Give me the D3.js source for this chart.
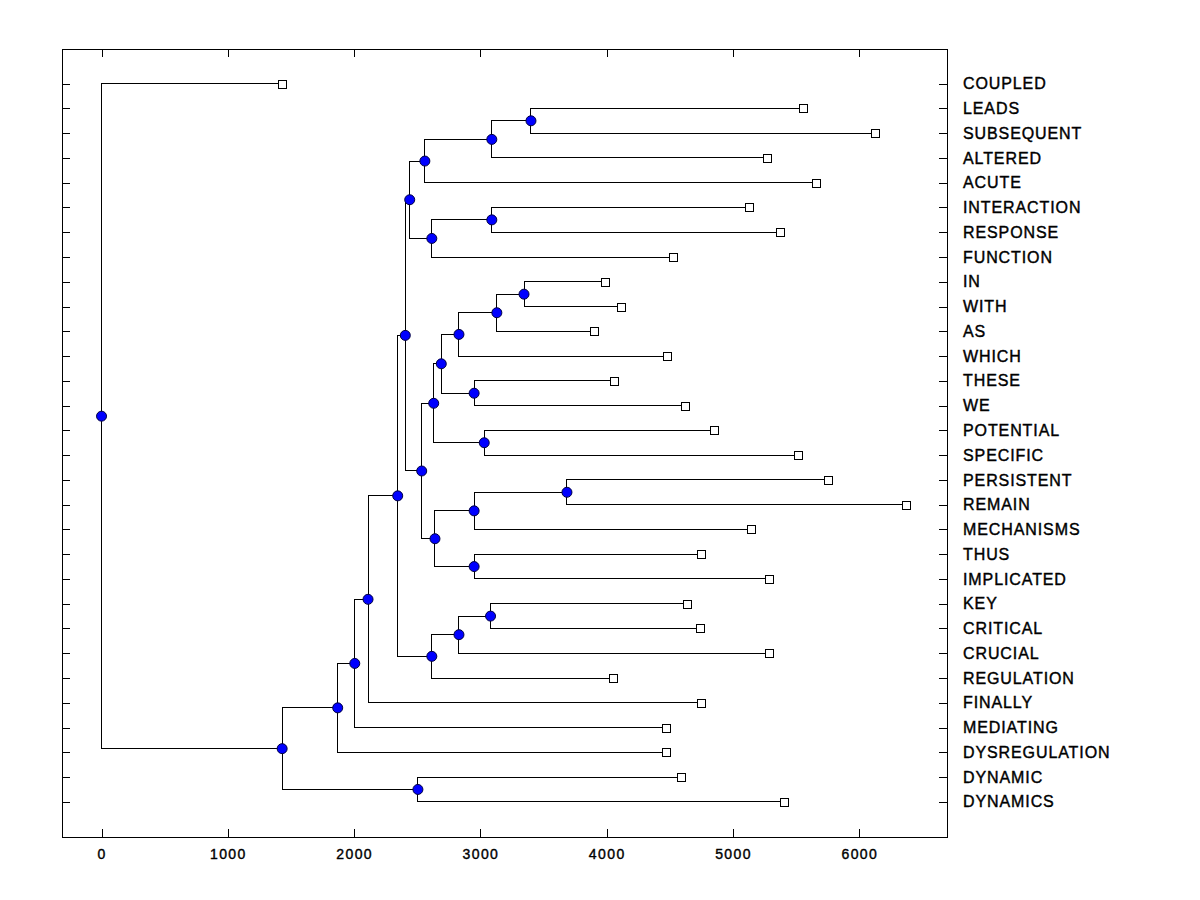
<!DOCTYPE html>
<html>
<head>
<meta charset="utf-8">
<script src="https://cdn.jsdelivr.net/npm/d3@7"></script>
<style>
  body { margin: 0; background: #fff; }
  svg { display: block; }
  .axis line { stroke: #000; shape-rendering: crispEdges; }
  .axis text { fill: #000; stroke: #000; stroke-width: 0.4px; font-family: "Liberation Sans", Arial, sans-serif; }
</style>
</head>
<body>
<div id="chart"></div>
<script>
// leaves, top to bottom
const leafNames = ["COUPLED", "LEADS", "SUBSEQUENT", "ALTERED", "ACUTE", "INTERACTION",
  "RESPONSE", "FUNCTION", "IN", "WITH", "AS", "WHICH", "THESE", "WE", "POTENTIAL",
  "SPECIFIC", "PERSISTENT", "REMAIN", "MECHANISMS", "THUS", "IMPLICATED", "KEY",
  "CRITICAL", "CRUCIAL", "REGULATION", "FINALLY", "MEDIATING", "DYSREGULATION",
  "DYNAMIC", "DYNAMICS"];
const leafValues = [1425, 5550, 6120, 5265, 5653, 5123,
  5368, 4521, 3990, 4109, 3903, 4481, 4054, 4616, 4853,
  5511, 5748, 6366, 5146, 4743, 5281, 4632,
  4735, 5281, 4046, 4750, 4473, 4473,
  4584, 5400];

// merges: a name is a leaf, a number is an earlier merge
const merges = [
  ["LEADS", "SUBSEQUENT"], [0, "ALTERED"], [1, "ACUTE"],
  ["INTERACTION", "RESPONSE"], [3, "FUNCTION"], [2, 4],
  ["IN", "WITH"], [6, "AS"], [7, "WHICH"], ["THESE", "WE"], [8, 9],
  ["POTENTIAL", "SPECIFIC"], [10, 11],
  ["PERSISTENT", "REMAIN"], [13, "MECHANISMS"], ["THUS", "IMPLICATED"], [14, 15],
  [12, 16], [5, 17],
  ["KEY", "CRITICAL"], [19, "CRUCIAL"], [20, "REGULATION"], [18, 21],
  [22, "FINALLY"], [23, "MEDIATING"], [24, "DYSREGULATION"],
  ["DYNAMIC", "DYNAMICS"], [25, 26], ["COUPLED", 27]
];
const mergeHeights = [3400, 3090, 2560,
  3090, 2615, 2440,
  3345, 3130, 2830, 2950, 2690,
  3030, 2630,
  3685, 2950, 2950, 2640,
  2535, 2405,
  3080, 2830, 2615, 2345,
  2110, 2005, 1870,
  2505, 1430, 0];

const xTicks = [0, 1000, 2000, 3000, 4000, 5000, 6000];

const width = 1200, height = 900;
const plot = {left: 62, right: 947, top: 49, bottom: 837};

const svg = d3.select("#chart").append("svg")
  .attr("width", width)
  .attr("height", height);

const x = d3.scaleLinear().domain([-313, 6694]).range([plot.left, plot.right]);
const y = d3.scaleLinear().domain([-1.4, 30.42]).range([plot.top, plot.bottom]);

// build the tree from the merge list
function toNode(ref) {
  if (typeof ref === "string") {
    const i = leafNames.indexOf(ref);
    return {name: ref, index: i, value: leafValues[i]};
  }
  return {value: mergeHeights[ref], children: merges[ref].map(toNode)};
}
const root = d3.hierarchy(toNode(merges.length - 1));
root.eachAfter(d => {
  d.px = x(d.data.value);
  d.py = d.children ? d3.mean(d.children, c => c.py) : y(d.data.index);
});

// axes (frame drawn separately)
const leafIdx = d3.range(leafNames.length);

const xAxis = svg.append("g")
  .attr("class", "axis")
  .attr("transform", `translate(0,${plot.bottom})`)
  .call(d3.axisBottom(x).tickValues(xTicks).tickSizeInner(-8).tickSizeOuter(0)
    .tickPadding(12).tickFormat(d3.format("d")));
xAxis.attr("font-size", 14);
xAxis.selectAll("text").style("font-size", "14px").style("letter-spacing", "1.4px");

svg.append("g")
  .attr("class", "axis")
  .attr("transform", `translate(0,${plot.top})`)
  .call(d3.axisTop(x).tickValues(xTicks).tickSizeInner(-8).tickSizeOuter(0).tickFormat(""));

svg.append("g")
  .attr("class", "axis")
  .attr("transform", `translate(${plot.left},0)`)
  .call(d3.axisLeft(y).tickValues(leafIdx).tickSizeInner(-8).tickSizeOuter(0).tickFormat(""));

const yRight = svg.append("g")
  .attr("class", "axis")
  .attr("transform", `translate(${plot.right},0)`)
  .call(d3.axisRight(y).tickValues(leafIdx).tickSizeInner(-8).tickSizeOuter(0)
    .tickPadding(16).tickFormat(i => leafNames[i]));
yRight.attr("font-size", 16);
yRight.selectAll("text").style("font-size", "16px").style("letter-spacing", "0.9px");

svg.selectAll(".axis .domain").remove();

svg.append("rect")
  .attr("x", plot.left + 0.5).attr("y", plot.top + 0.5)
  .attr("width", plot.right - plot.left).attr("height", plot.bottom - plot.top)
  .attr("fill", "none").attr("stroke", "#000")
  .attr("shape-rendering", "crispEdges");

// elbow links
svg.append("g")
  .selectAll("path")
  .data(root.links())
  .join("path")
  .attr("d", l => `M${l.source.px},${l.source.py}V${l.target.py}H${l.target.px}`)
  .attr("fill", "none")
  .attr("stroke", "#000")
  .attr("stroke-width", 1)
  .attr("shape-rendering", "crispEdges");

// inner nodes
svg.append("g")
  .selectAll("circle")
  .data(root.descendants().filter(d => d.children))
  .join("circle")
  .attr("cx", d => d.px)
  .attr("cy", d => d.py)
  .attr("r", 5)
  .attr("fill", "#0000ff")
  .attr("stroke", "#000040")
  .attr("stroke-width", 1);

// leaves
svg.append("g")
  .selectAll("rect")
  .data(root.leaves())
  .join("rect")
  .attr("x", d => Math.round(d.px) - 4)
  .attr("y", d => Math.round(d.py) - 4)
  .attr("width", 8)
  .attr("height", 8)
  .attr("fill", "#fff")
  .attr("stroke", "#000")
  .attr("stroke-width", 1)
  .attr("shape-rendering", "crispEdges");
</script>
</body>
</html>
